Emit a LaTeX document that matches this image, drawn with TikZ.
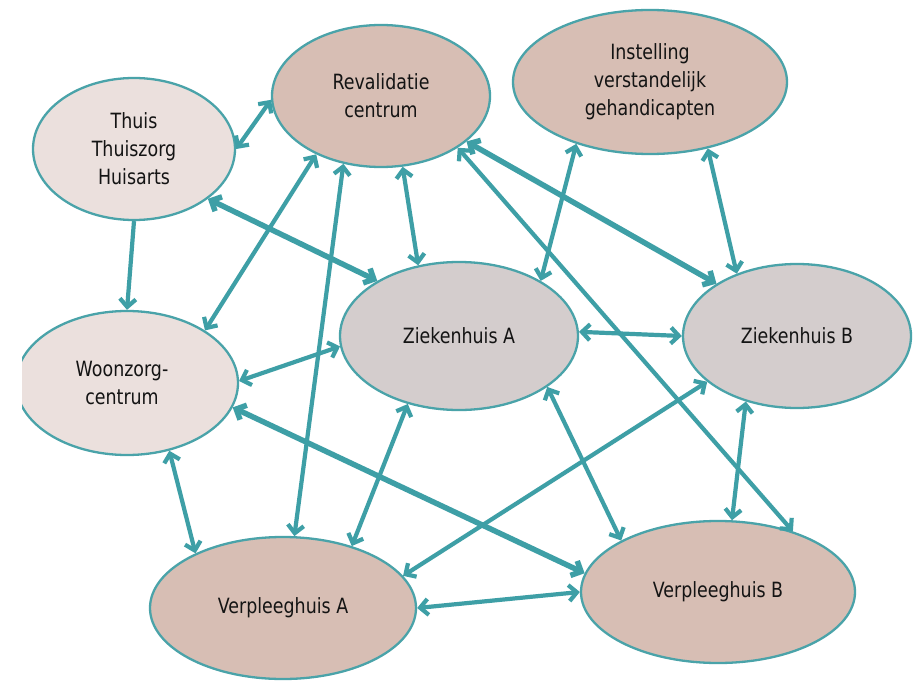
\documentclass[tikz,border=0pt]{standalone}
\usepackage{fontspec}
\setmainfont{DejaVu Sans}[FakeStretch=0.83]
\usetikzlibrary{shapes.geometric,arrows.meta}
\definecolor{teal1}{HTML}{3E9FA6}
\definecolor{edge1}{HTML}{4AA3A9}
\definecolor{lightfill}{HTML}{EBE0DD}
\definecolor{brownfill}{HTML}{D7BEB4}
\definecolor{greyfill}{HTML}{D4CDCD}
\definecolor{txt}{HTML}{141414}
\begin{document}
\begin{tikzpicture}[x=1pt,y=-1pt,
  place/.style={ellipse,draw=edge1,line width=2.3pt,inner sep=0pt,align=center,
    text=txt,font=\fontsize{21}{28}\selectfont},
  lightplace/.style={place,fill=lightfill},
  brownplace/.style={place,fill=brownfill},
  greyplace/.style={place,fill=greyfill},
  link/.style={draw=teal1,line width=4.2pt,
    {Straight Barb[length=8pt,width=16pt]}-{Straight Barb[length=8pt,width=16pt]}},
  onelink/.style={draw=teal1,line width=4.2pt,-{Straight Barb[length=8pt,width=16pt]}},
  thicklink/.style={link,line width=5.5pt}]
\useasboundingbox (0,0) rectangle (913,682);
\fill[white] (0,0) rectangle (913,682);
\node[lightplace,minimum width=202pt,minimum height=142pt] (T) at (134,149) {Thuis\\Thuiszorg\\Huisarts};
\node[brownplace,minimum width=218pt,minimum height=142pt] (R) at (381,96) {Revalidatie\\centrum};
\node[brownplace,minimum width=274pt,minimum height=144pt] (I) at (650,82) {Instelling\\verstandelijk\\gehandicapten};
\node[greyplace,minimum width=238pt,minimum height=148pt] (ZA) at (459,336) {Ziekenhuis A};
\node[greyplace,minimum width=228pt,minimum height=144pt] (ZB) at (797,336) {Ziekenhuis B};
\begin{scope}
\clip (22,0) rectangle (913,682);
\node[lightplace,minimum width=222pt,minimum height=144pt] (W) at (127,383) {\hspace*{-10pt}Woonzorg-\\\hspace*{-10pt}centrum};
\end{scope}
\node[brownplace,minimum width=266pt,minimum height=142pt] (VA) at (283,608) {Verpleeghuis A};
\node[brownplace,minimum width=274pt,minimum height=142pt] (VB) at (718,592) {Verpleeghuis B};

\draw[link] (T.0) -- (R.182);
\draw[onelink] (T.-90) -- (W.90);
\draw[thicklink] (T.-34.6) -- (ZA.146.3);
\draw[link] (R.-138) -- (W.34.2);
\draw[link] (R.-119) -- (VA.81.6);
\draw[link] (R.-73.4) -- (ZA.120);
\draw[thicklink] (R.-28.6) -- (ZB.147.1);
\draw[link] (R.-34.4) -- (VB.39.2);
\draw[link] (I.-140.4) -- (ZA.34.8);
\draw[link] (I.-49.5) -- (ZB.134);
\draw[link] (ZA.2.4) -- (ZB.180.5);
\draw[link] (W.1) -- (ZA.185);
\draw[thicklink] (W.-13.4) -- (VB.172.2);
\draw[link] (W.-58.9) -- (VA.148.8);
\draw[link] (ZA.-127.3) -- (VA.42.6);
\draw[link] (ZA.-30.2) -- (VB.152);
\draw[link] (ZB.-153.2) -- (VA.15.4);
\draw[link] (ZB.-128.8) -- (VB.79);
\draw[link] (VA.0) -- (VB.180);
\end{tikzpicture}
\end{document}
